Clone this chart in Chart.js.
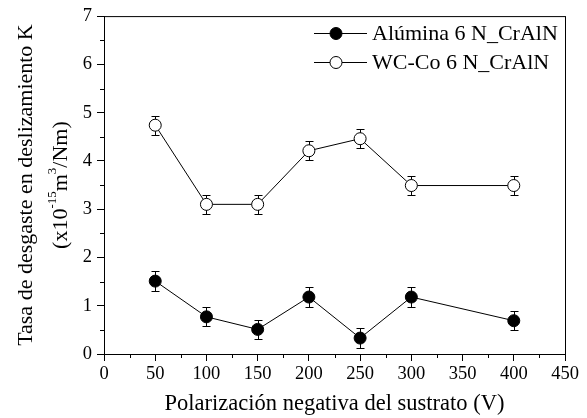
<!DOCTYPE html>
<html>
<head>
<meta charset="utf-8">
<script src="https://cdn.jsdelivr.net/npm/chart.js@4.4.1/dist/chart.umd.min.js"></script>
<style>
  body { margin: 0; background: #fff; }
  canvas { display: block; }
</style>
</head>
<body>
<canvas id="chart" width="587" height="418"></canvas>
<script>
// Data
const biasVoltage = [50, 100, 150, 200, 250, 300, 400];
const aluminaK = [1.51, 0.77, 0.51, 1.18, 0.33, 1.18, 0.69];
const aluminaErr = [0.2, 0.2, 0.2, 0.2, 0.2, 0.2, 0.2];
const wcCoK = [4.74, 3.10, 3.10, 4.21, 4.46, 3.49, 3.49];
const wcCoErr = [0.2, 0.2, 0.2, 0.2, 0.2, 0.2, 0.2];
const seriesLabels = ['Alúmina 6 N_CrAlN', 'WC-Co 6 N_CrAlN'];
const xTitle = 'Polarización negativa del sustrato (V)';
const yTitle = 'Tasa de desgaste en deslizamiento K';

const FONT = "'Liberation Serif', serif";

function toPoints(xs, ys) {
    return xs.map((x, i) => ({ x: x, y: ys[i] }));
}

// Error bars, frame, minor ticks, axis titles and legend
const extras = {
    id: 'extras',
    beforeDatasetsDraw(chart) {
        const ctx = chart.ctx;
        const xs = chart.scales.x, ys = chart.scales.y;
        const errs = [aluminaErr, wcCoErr];
        ctx.save();
        ctx.strokeStyle = '#000';
        ctx.lineWidth = 1;
        chart.data.datasets.forEach((ds, d) => {
            ds.data.forEach((p, i) => {
                const px = Math.round(xs.getPixelForValue(p.x)) + 0.5;
                const top = Math.round(ys.getPixelForValue(p.y + errs[d][i])) + 0.5;
                const bot = Math.round(ys.getPixelForValue(p.y - errs[d][i])) + 0.5;
                ctx.beginPath();
                ctx.moveTo(px, top); ctx.lineTo(px, bot);
                ctx.moveTo(px - 4, top); ctx.lineTo(px + 4, top);
                ctx.moveTo(px - 4, bot); ctx.lineTo(px + 4, bot);
                ctx.stroke();
            });
        });
        ctx.restore();
    },
    afterDraw(chart) {
        const ctx = chart.ctx;
        const a = chart.chartArea;
        const xs = chart.scales.x, ys = chart.scales.y;
        ctx.save();
        ctx.strokeStyle = '#000';
        ctx.lineWidth = 1;
        // frame
        ctx.strokeRect(a.left + 0.5, a.top + 0.5, a.right - a.left, a.bottom - a.top);
        // minor ticks
        ctx.beginPath();
        for (let v = 25; v < 450; v += 50) {
            const px = Math.round(xs.getPixelForValue(v)) + 0.5;
            ctx.moveTo(px, a.bottom); ctx.lineTo(px, a.bottom + 4);
        }
        for (let v = 0.5; v < 7; v += 1) {
            const py = Math.round(ys.getPixelForValue(v)) + 0.5;
            ctx.moveTo(a.left, py); ctx.lineTo(a.left - 4, py);
        }
        ctx.stroke();

        ctx.fillStyle = '#000';
        // x title
        ctx.font = '22.5px ' + FONT;
        ctx.textAlign = 'center';
        ctx.textBaseline = 'middle';
        ctx.fillText(xTitle, (a.left + a.right) / 2, 404);

        // y title (two lines, second with superscripts)
        const cy = (a.top + a.bottom) / 2;
        ctx.save();
        ctx.translate(26, cy);
        ctx.rotate(-Math.PI / 2);
        ctx.font = '22px ' + FONT;
        ctx.fillText(yTitle, 0, 0);
        ctx.restore();

        ctx.save();
        ctx.translate(61, cy);
        ctx.rotate(-Math.PI / 2);
        const parts = [['(x10', false], ['-15', true], ['m', false], ['3', true], ['/Nm)', false]];
        const big = '22px ' + FONT, small = '13px ' + FONT;
        let total = 0;
        parts.forEach(p => { ctx.font = p[1] ? small : big; total += ctx.measureText(p[0]).width; });
        let x = -total / 2;
        ctx.textAlign = 'left';
        parts.forEach(p => {
            ctx.font = p[1] ? small : big;
            ctx.fillText(p[0], x, p[1] ? -8 : 0);
            x += ctx.measureText(p[0]).width;
        });
        ctx.restore();

        // legend
        const legendY = [33, 62];
        const fills = ['#000', '#fff'];
        ctx.font = '22px ' + FONT;
        ctx.textAlign = 'left';
        seriesLabels.forEach((label, i) => {
            const y = legendY[i] + 0.5;
            ctx.beginPath();
            ctx.moveTo(314, y); ctx.lineTo(367, y);
            ctx.stroke();
            ctx.beginPath();
            ctx.arc(336, y, 6, 0, Math.PI * 2);
            ctx.fillStyle = fills[i];
            ctx.fill();
            ctx.stroke();
            ctx.fillStyle = '#000';
            ctx.fillText(label, 372, legendY[i] + 1);
        });
        ctx.restore();
    }
};

function drawChart() {
    new Chart(document.getElementById('chart'), {
        type: 'line',
        data: {
            datasets: [{
                label: seriesLabels[0],
                data: toPoints(biasVoltage, aluminaK),
                borderColor: '#000',
                borderWidth: 1,
                pointRadius: 6,
                pointBackgroundColor: '#000',
                pointBorderColor: '#000',
                pointBorderWidth: 1,
                tension: 0
            }, {
                label: seriesLabels[1],
                data: toPoints(biasVoltage, wcCoK),
                borderColor: '#000',
                borderWidth: 1,
                pointRadius: 6,
                pointBackgroundColor: '#fff',
                pointBorderColor: '#000',
                pointBorderWidth: 1,
                tension: 0
            }]
        },
        options: {
            responsive: false,
            animation: false,
            layout: { padding: { top: 15, right: 22, left: 0, bottom: 0 } },
            plugins: { legend: { display: false }, tooltip: { enabled: false } },
            scales: {
                x: {
                    type: 'linear',
                    min: 0, max: 450,
                    ticks: { stepSize: 50, color: '#000', font: { family: FONT, size: 18.5 }, padding: 2, maxRotation: 0 },
                    grid: { drawOnChartArea: false, tickLength: 7, color: '#000' },
                    border: { color: '#000' },
                    afterFit(scale) { scale.height = 64; }
                },
                y: {
                    min: 0, max: 7,
                    ticks: { stepSize: 1, color: '#000', font: { family: FONT, size: 18.5 }, padding: 5 },
                    grid: { drawOnChartArea: false, tickLength: 7, color: '#000' },
                    border: { color: '#000' },
                    afterFit(scale) { scale.width = 104; }
                }
            }
        },
        plugins: [extras]
    });
}

// make sure the serif face is ready before the canvas uses it
Promise.all([
    document.fonts.load("18px 'Liberation Serif'"),
    document.fonts.load("13px 'Liberation Serif'")
]).then(drawChart, drawChart);
</script>
</body>
</html>
